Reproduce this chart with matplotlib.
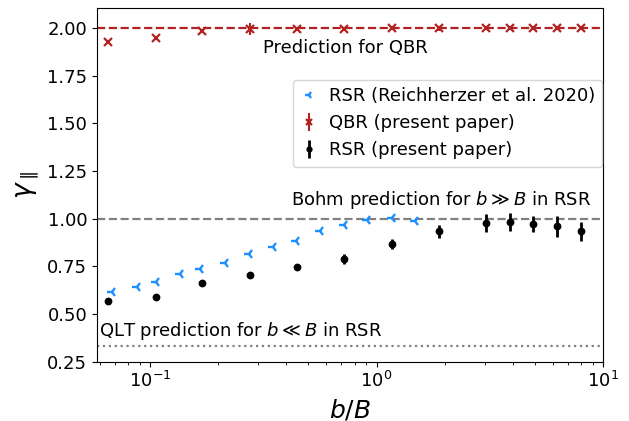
import matplotlib
matplotlib.use('Agg')
import matplotlib.pyplot as plt
import numpy as np

# RSR values from Reichherzer et al. 2020
rsr_old_x = [0.0679, 0.0877, 0.106, 0.1355, 0.166, 0.214, 0.273, 0.349,
             0.441, 0.563, 0.719, 0.908, 1.17, 1.47]
rsr_old_y = [0.614, 0.644, 0.670, 0.711, 0.737, 0.770, 0.816, 0.851,
             0.881, 0.933, 0.968, 0.991, 1.004, 0.986]

# present paper: same b/B grid for QBR and RSR
new_x = [0.0655, 0.106, 0.170, 0.277, 0.445, 0.719, 1.17, 1.89,
         3.03, 3.86, 4.89, 6.25, 7.96]
qbr_y = [1.925, 1.946, 1.986, 1.995, 1.993, 1.994, 1.998, 1.998,
         1.998, 1.999, 1.998, 1.998, 1.999]
qbr_err = [0.008, 0.008, 0.010, 0.030, 0.008, 0.008, 0.010, 0.015,
           0.008, 0.008, 0.008, 0.008, 0.008]
rsr_y = [0.570, 0.591, 0.660, 0.705, 0.749, 0.789, 0.867, 0.933,
         0.977, 0.983, 0.970, 0.960, 0.933]
rsr_err = [0.008, 0.008, 0.010, 0.012, 0.015, 0.025, 0.026, 0.035,
           0.046, 0.048, 0.042, 0.056, 0.051]

c_qbr = '#B22222'
c_old = '#1E90FF'
c_grey = 'grey'

fig, ax = plt.subplots(figsize=(6.29, 4.21), dpi=100)
fig.subplots_adjust(left=0.154, right=0.959, bottom=0.141, top=0.981)

ax.axhline(2.0, color=c_qbr, ls='--', lw=1.6, zorder=1)
ax.axhline(1.0, color=c_grey, ls='--', lw=1.6, zorder=1)
ax.axhline(1 / 3, color=c_grey, ls=':', lw=1.6, zorder=1)

ax.plot(rsr_old_x, rsr_old_y, '3', color=c_old, ms=7.5, mew=1.7,
        ls='none', label='RSR (Reichherzer et al. 2020)')
ax.errorbar(new_x, qbr_y, yerr=qbr_err, fmt='x', color=c_qbr, ms=5.5,
            mew=1.6, elinewidth=1.5, label='QBR (present paper)')
ax.errorbar(new_x, rsr_y, yerr=rsr_err, fmt='o', color='k', ms=4.6,
            elinewidth=2, label='RSR (present paper)')

ax.text(0.316, 1.895, 'Prediction for QBR', fontsize=13, va='center', ha='left')
ax.text(0.42, 1.1, r'Bohm prediction for $b \gg B$ in RSR', fontsize=13,
        va='center', ha='left')
ax.text(0.0595, 0.41, r'QLT prediction for $b \ll B$ in RSR', fontsize=13,
        va='center', ha='left')

ax.set_xscale('log')
ax.set_xlim(0.0583, 10)
ax.set_ylim(0.25, 2.105)
ax.set_yticks([0.25, 0.5, 0.75, 1.0, 1.25, 1.5, 1.75, 2.0])
ax.tick_params(labelsize=13)
ax.set_xlabel(r'$b/B$', fontsize=18)
ax.set_ylabel(r'$\gamma_\parallel$', fontsize=19)

ax.legend(fontsize=13, loc='upper right', bbox_to_anchor=(0.998, 0.796),
          borderaxespad=0, handletextpad=0.6, handlelength=1.0,
          markerscale=0.75)

plt.savefig('out.png', dpi=100)
